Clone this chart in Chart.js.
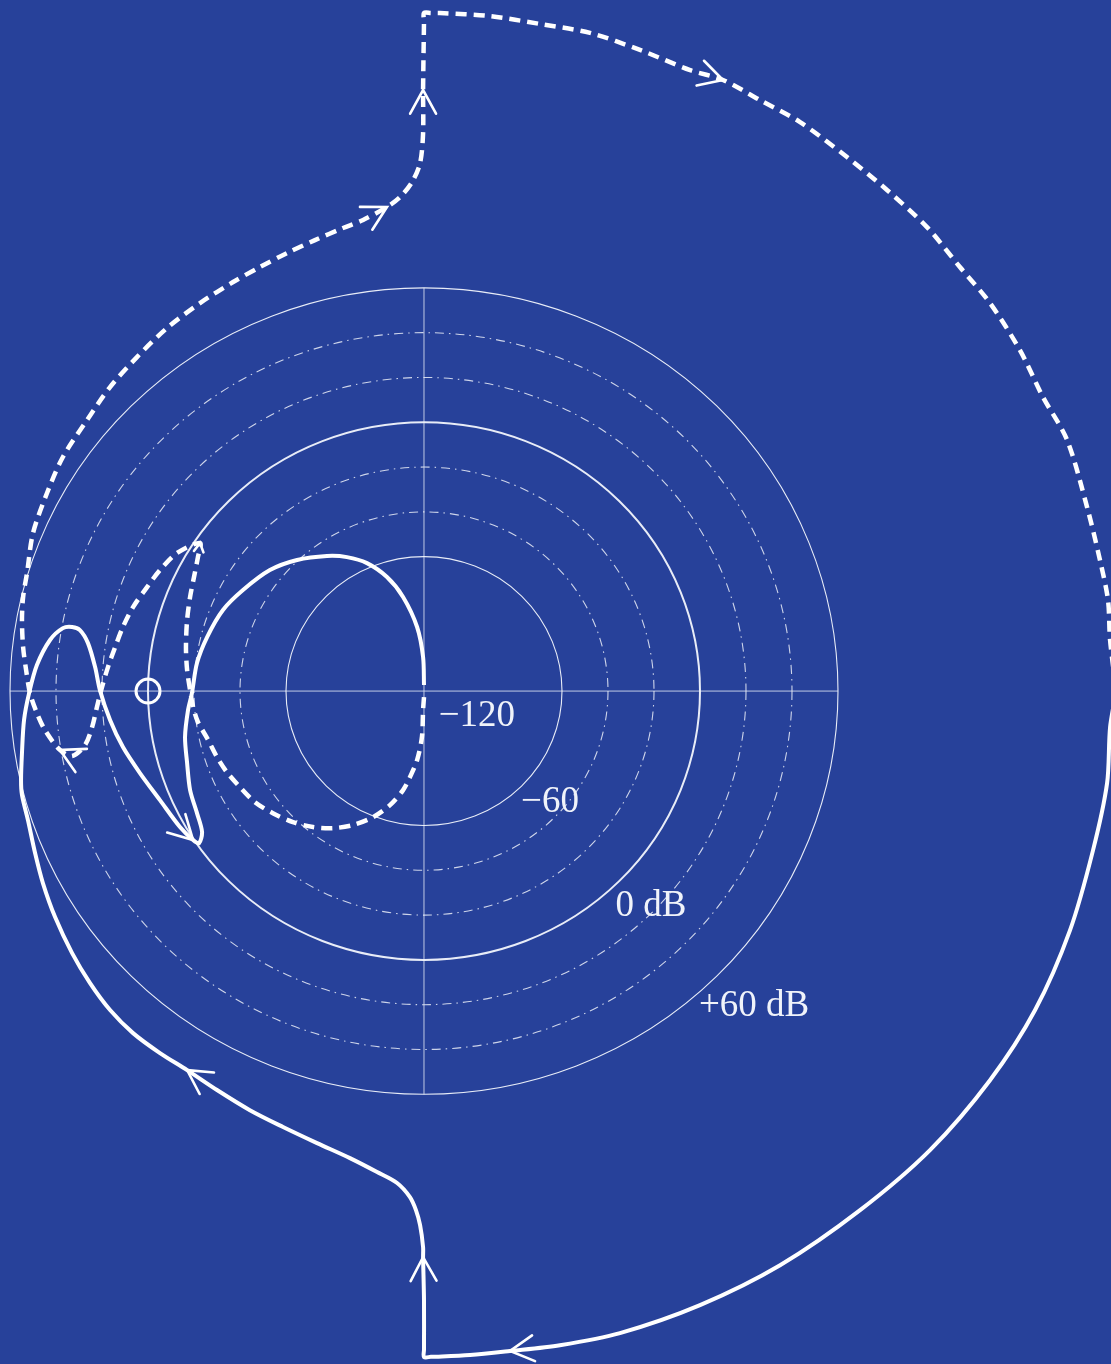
<!DOCTYPE html>
<html>
<head>
<meta charset="utf-8">
<script src="https://cdn.jsdelivr.net/npm/chart.js@4.4.1/dist/chart.umd.min.js"></script>
<style>
  html, body { margin: 0; padding: 0; background: #27419a; }
  #wrap { width: 1111px; height: 1364px; }
</style>
</head>
<body>
<div id="wrap"><canvas id="nyquist" width="1111" height="1364"></canvas></div>
<script>
// log-polar plot: distance from centre = dB + 120 (centre is -120 dB)
var dbLevels = [-60, -40, -20, 0, 20, 40, 60];
var solidLevels = [-60, 0, 60];
var ringLabels = ['\u2212120', '\u221260', '0 dB', '+60 dB'];
var ringLabelAt = [[23, -11.2], [54.8, -49.6], [98.7, -96], [143.5, -140.6]];

// positive frequencies (solid), in the order of the arrows
var posFreq = [
  [301, 0], [298.3, -16.1], [297.0, -41.1], [290.9, -71.0], [280.9, -106.7],
  [265.7, -142.4], [246.1, -173.7], [220.0, -204.9], [189.6, -231.7], [154.8, -256.3],
  [120.0, -274.1], [85.2, -286.6], [59.1, -292.0], [37.4, -294.6], [20.0, -296.4],
  [3, -297.2], [0, -297.3], [0, -294], [0, -271.9], [-0.4, -252.7], [-0.4, -248.2], [-1.7, -238.4],
  [-3.5, -231.7], [-6.1, -225.9], [-11.7, -219.6], [-20.4, -214.7], [-32.2, -208.5],
  [-46.5, -201.8], [-61.3, -194.6], [-75.7, -187.1], [-90.0, -178.1], [-103.0, -169.2],
  [-114.8, -161.6], [-126.5, -152.7], [-136.5, -142.4], [-145.2, -130.4], [-153.0, -117.0],
  [-160.4, -100.9], [-165.7, -85.7], [-169.1, -72.3], [-172.2, -57.6], [-174.8, -46.4],
  [-175.2, -39.7], [-174.8, -27.7], [-173.9, -12.9], [-171.7, -0.9], [-168.3, 11.6],
  [-162.6, 22.8], [-157.0, 28.1], [-153.0, 28.6], [-149.6, 27.2], [-146.1, 21.4],
  [-143.0, 10.7], [-140.9, 0.4], [-136.5, -12.9], [-130.9, -25.0], [-123.5, -36.6],
  [-114.8, -48.7], [-106.1, -60.7], [-100.4, -66.5], [-97.8, -67.9], [-96.5, -62.9],
  [-98.7, -54.5], [-101.7, -44.2], [-103.0, -32.1], [-103.9, -20.5], [-102.6, -8.5],
  [-100.9, -0.9], [-98.7, 12.5], [-94.3, 24.1], [-87.4, 36.2], [-78.7, 45.1],
  [-67.0, 54.0], [-55.2, 58.5], [-42.2, 60.3], [-33.5, 59.8], [-24.8, 57.1],
  [-16.1, 50.9], [-9.1, 42.0], [-3.0, 28.6], [-0.4, 15.2], [0, 2.7]
];
var posArrows = [13, 19, 31, 59];

// negative frequencies (dashed)
var negFreq = [
  [0, -2.7], [-0.4, -8.5], [-0.9, -20.5], [-3.0, -30.8], [-6.1, -38.4],
  [-9.1, -44.2], [-14.8, -50.9], [-22.2, -56.3], [-30.9, -59.8], [-39.6, -61.2],
  [-48.3, -60.7], [-57.0, -58.5], [-65.7, -54.5], [-73.5, -49.6], [-80.0, -42.9],
  [-85.7, -36.2], [-90.0, -29.5], [-94.3, -21.0], [-98.3, -13.8], [-100.4, -7.1],
  [-101.7, 0.4], [-103.0, 9.4], [-103.5, 19.6], [-103.0, 31.7], [-101.7, 42.0],
  [-100.0, 50.9], [-98.3, 59.8], [-97.4, 66.1], [-107.4, 61.6], [-114.8, 54.0],
  [-120.4, 46.4], [-126.5, 37.5], [-130.9, 28.6], [-134.3, 19.6], [-137.4, 10.7],
  [-140.0, 1.8], [-142.2, -7.1], [-144.3, -16.1], [-147.4, -24.1], [-153.0, -29.0],
  [-158.3, -26.3], [-164.8, -17.4], [-168.3, -9.8], [-171.3, -0.9], [-173.0, 9.4],
  [-174.3, 19.6], [-174.8, 31.7], [-174.3, 42.0], [-172.6, 52.7], [-170.0, 70.5],
  [-163.9, 88.4], [-157.0, 104.5], [-146.5, 121.0], [-136.5, 135.7], [-124.8, 149.1],
  [-111.7, 162.1], [-97.4, 173.2], [-83.0, 182.6], [-71.3, 189.3], [-59.6, 195.5],
  [-47.4, 201.3], [-35.2, 206.7], [-26.5, 210.3], [-16.1, 216.1], [-10.4, 220.5],
  [-5.2, 227.2], [-1.7, 235.7], [-0.4, 249.1], [-0.4, 268.3], [0, 299], [0, 302.7],
  [3, 302.7], [7.0, 302.7], [28.7, 301.3], [50.4, 297.8], [72.2, 293.8], [93.9, 286.2],
  [115.7, 277.2], [130.0, 272.8], [146.1, 263.8], [163.5, 254.0], [183.9, 238.4],
  [201.3, 223.7], [218.7, 207.1], [233.0, 189.3], [246.1, 173.2], [259.1, 152.2],
  [269.1, 131.3], [279.6, 112.1], [288.3, 82.1], [293.9, 58.5], [297.4, 40.6],
  [298.3, 22.8], [301, 0]
];
var negArrows = [27, 40, 63, 68, 78];

var criticalPoint = [[-120, 0]];

function toPts(arr) {
  return arr.map(function(p){ return {x: p[0], y: p[1]}; });
}

var lineCol = 'rgba(235,238,248,0.85)';

var polarGrid = {
  id: 'polarGrid',
  beforeDatasetsDraw: function(chart) {
    var ctx = chart.ctx, xs = chart.scales.x, ys = chart.scales.y;
    var cx = xs.getPixelForValue(0), cy = ys.getPixelForValue(0);
    var rMax = dbLevels[dbLevels.length - 1] + 120;
    ctx.save();
    ctx.strokeStyle = 'rgba(220,226,242,0.85)';
    ctx.lineWidth = 1;
    ctx.beginPath();
    ctx.moveTo(xs.getPixelForValue(-rMax), cy);
    ctx.lineTo(xs.getPixelForValue(rMax), cy);
    ctx.moveTo(cx, ys.getPixelForValue(rMax));
    ctx.lineTo(cx, ys.getPixelForValue(-rMax));
    ctx.stroke();

    dbLevels.forEach(function(db) {
      var r = db + 120;
      var rx = xs.getPixelForValue(r) - cx;
      var ry = cy - ys.getPixelForValue(r);
      var solid = solidLevels.indexOf(db) >= 0;
      ctx.strokeStyle = solid ? 'rgba(242,245,252,0.95)' : lineCol;
      ctx.lineWidth = db === 0 ? 2 : 1.1;
      ctx.setLineDash(solid ? [] : [9, 5, 1.5, 5]);
      ctx.beginPath();
      ctx.ellipse(cx, cy, rx, ry, 0, 0, Math.PI * 2);
      ctx.stroke();
    });
    ctx.restore();
  },
  afterDatasetsDraw: function(chart) {
    var ctx = chart.ctx, xs = chart.scales.x, ys = chart.scales.y;
    ctx.save();
    // direction arrows, taken from the curve points
    ctx.strokeStyle = '#ffffff';
    ctx.lineWidth = 2.6;
    ctx.setLineDash([]);
    ctx.lineCap = 'round';
    [[0, posArrows], [1, negArrows]].forEach(function(set) {
      var pts = chart.getDatasetMeta(set[0]).data;
      set[1].forEach(function(i) {
        var tip = pts[i], prev = pts[i - 1];
        var a = Math.atan2(tip.y - prev.y, tip.x - prev.x);
        var len = (set[0] === 1 && i === 27) ? 10 : 27;
        var spread = 0.5;
        ctx.beginPath();
        ctx.moveTo(tip.x - len * Math.cos(a - spread), tip.y - len * Math.sin(a - spread));
        ctx.lineTo(tip.x, tip.y);
        ctx.lineTo(tip.x - len * Math.cos(a + spread), tip.y - len * Math.sin(a + spread));
        ctx.stroke();
      });
    });
    // ring labels
    ctx.fillStyle = '#f0f3fa';
    ctx.font = '37px "Liberation Serif", "DejaVu Serif", serif';
    ctx.textAlign = 'center';
    ctx.textBaseline = 'middle';
    ringLabels.forEach(function(t, k) {
      ctx.fillText(t, xs.getPixelForValue(ringLabelAt[k][0]), ys.getPixelForValue(ringLabelAt[k][1]));
    });
    ctx.restore();
  }
};

new Chart(document.getElementById('nyquist'), {
  type: 'scatter',
  data: {
    datasets: [
      {
        data: toPts(posFreq),
        showLine: true,
        borderColor: '#ffffff',
        borderWidth: 4,
        borderJoinStyle: 'round',
        pointRadius: 0,
        tension: 0.3
      },
      {
        data: toPts(negFreq),
        showLine: true,
        borderColor: '#ffffff',
        borderWidth: 4.5,
        borderDash: [11, 7],
        pointRadius: 0,
        tension: 0.3
      },
      {
        data: toPts(criticalPoint),
        showLine: false,
        pointRadius: 12,
        pointBorderWidth: 3,
        borderColor: '#ffffff',
        pointBorderColor: '#ffffff',
        backgroundColor: 'rgba(0,0,0,0)',
        pointBackgroundColor: 'rgba(0,0,0,0)'
      }
    ]
  },
  options: {
    responsive: false,
    animation: false,
    devicePixelRatio: 1,
    events: [],
    layout: { padding: 0, autoPadding: false },
    plugins: { legend: { display: false }, tooltip: { enabled: false } },
    scales: {
      x: { type: 'linear', min: -184.35, max: 298.7, display: false },
      y: { type: 'linear', min: -300.4, max: 308.5, display: false }
    }
  },
  plugins: [polarGrid]
});
</script>
</body>
</html>
